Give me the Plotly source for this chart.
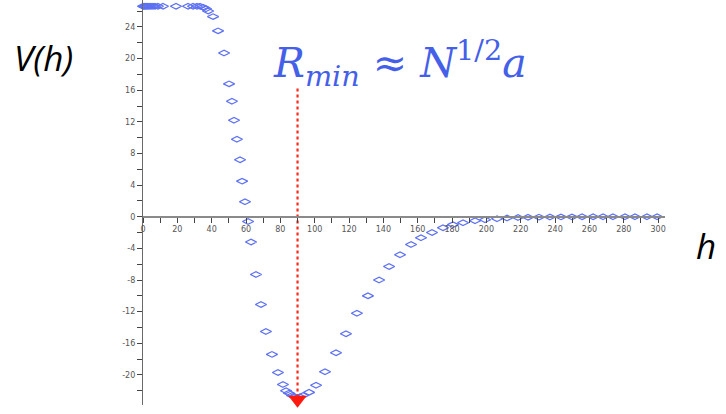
import plotly.graph_objects as go

# Potential V(h) sampled along h
h_vals = [0, 0.6, 1.2, 1.9, 2.7, 3.6, 4.6, 5.8, 7.0, 8.7, 11.6, 19.2, 26.2, 29.1, 31.4, 33.2,
          34.9, 36.7, 37.9, 40.8, 43.7, 47.2, 50.1, 51.8, 53.0, 54.7, 56.5, 57.7, 59.4,
          61.2, 62.9, 65.8, 68.7, 71.6, 75.1, 78.6, 81.5, 83.3, 85.0, 86.8, 88.5, 89.7,
          91.4, 93.2, 96.7, 100.8, 106.0, 112.4, 118.2, 124.6, 131.0, 137.5, 143.3, 149.7,
          156.1, 161.9, 168.3, 174.7, 180.5, 186.4, 193.4, 199.2, 206.2, 212.0, 218.4,
          224.2, 230.6, 237.0, 243.4, 249.8, 255.7, 262.1, 267.9, 273.7, 280.7, 286.5,
          293.5, 299.4]
v_vals = [26.6, 26.6, 26.6, 26.6, 26.6, 26.6, 26.6, 26.6, 26.6, 26.6, 26.6, 26.6, 26.6, 26.6, 26.6, 26.6,
          26.5, 26.3, 26.0, 25.3, 23.5, 20.7, 16.8, 14.6, 12.2, 9.8, 7.2, 4.5, 1.9,
          -0.6, -3.2, -7.3, -11.1, -14.5, -17.4, -19.7, -21.2, -22.0, -22.3, -22.6, -22.75, -22.85,
          -22.75, -22.6, -22.2, -21.3, -19.6, -17.2, -14.8, -12.2, -10.0, -8.0, -6.3, -4.8,
          -3.5, -2.65, -2.0, -1.4, -1.0, -0.76, -0.5, -0.38, -0.25, -0.15, -0.1,
          -0.07, -0.05, -0.03, -0.02, -0.02, -0.01, -0.01, 0.0, 0.0, 0.0, 0.0,
          0.0, 0.0]

# Location of the minimum
h_min = 90
v_min = -22.85
line_top = 16.2

# Tick labels (plain hyphen for negatives)
x_ticks = list(range(0, 301, 20))
x_labels = [str(t) for t in x_ticks]
y_ticks = list(range(-20, 25, 4))
y_labels = [str(t) for t in y_ticks]

formula = "<i>R</i><sub><i>min</i></sub> ≈ <i>N</i><sup>1/2</sup><i>a</i>"

y_lo, y_hi = -23.8, 27.4
x_lo, x_hi = 0, 304

fig = go.Figure()

fig.add_trace(go.Scatter(
    x=h_vals, y=v_vals, mode="markers",
    marker=dict(symbol="diamond-wide-open", size=8, color="#5d70f2",
                line=dict(width=1.2, color="#5d70f2")),
    cliponaxis=False, showlegend=False, hoverinfo="skip"))

fig.add_trace(go.Scatter(
    x=[h_min, h_min], y=[line_top, v_min], mode="lines",
    line=dict(color="#ff2a1a", width=2.2, dash="dot"),
    showlegend=False, hoverinfo="skip"))

fig.add_trace(go.Scatter(
    x=[h_min], y=[v_min - 0.3], mode="markers",
    marker=dict(symbol="triangle-down", size=16, color="#ff1a10"),
    cliponaxis=False, showlegend=False, hoverinfo="skip"))

tick_font = dict(family="DejaVu Sans", size=8, color="#555555")

fig.update_layout(
    width=726, height=414,
    margin=dict(l=143, r=61, t=0, b=9),
    paper_bgcolor="white", plot_bgcolor="white",
    xaxis=dict(
        range=[x_lo, x_hi], anchor="free",
        position=(0 - y_lo) / (y_hi - y_lo),
        showgrid=False, zeroline=False,
        showline=True, linecolor="#8a8a8a", linewidth=1.6,
        tickmode="array", tickvals=x_ticks, ticktext=x_labels,
        ticks="outside", ticklen=5, tickcolor="#444", tickwidth=1,
        minor=dict(tickmode="linear", tick0=0, dtick=10, ticks="outside",
                   ticklen=5, tickcolor="#444", tickwidth=1, showgrid=False),
        tickfont=tick_font,
    ),
    yaxis=dict(
        range=[y_lo, y_hi],
        showgrid=False, zeroline=False,
        showline=True, linecolor="#6a6a6a", linewidth=1.2,
        tickmode="array", tickvals=y_ticks, ticktext=y_labels,
        ticks="outside", ticklen=5, tickcolor="#444", tickwidth=1,
        minor=dict(tickmode="linear", tick0=0, dtick=2, ticks="outside",
                   ticklen=5, tickcolor="#444", tickwidth=1, showgrid=False),
        tickfont=tick_font,
    ),
    annotations=[
        dict(text="<i>V(h)</i>", xref="paper", yref="paper", x=-0.19, y=0.857,
             xanchor="center", yanchor="middle", showarrow=False,
             font=dict(family="Open Sans", size=35, color="black")),
        dict(text="<i>h</i>", xref="paper", yref="paper", x=1.078, y=0.393,
             xanchor="center", yanchor="middle", showarrow=False,
             font=dict(family="Open Sans", size=35, color="black")),
        dict(text=formula, xref="paper", yref="paper", x=0.492, y=0.845,
             xanchor="center", yanchor="middle", showarrow=False,
             font=dict(family="DejaVu Serif", size=41, color="#4460e8")),
    ],
)

fig.write_html("out.html")
